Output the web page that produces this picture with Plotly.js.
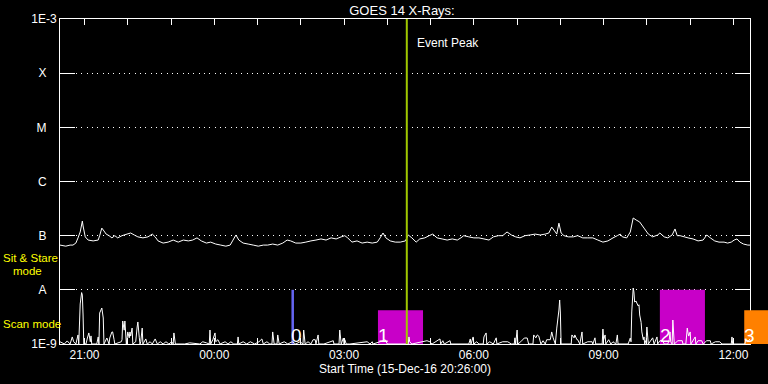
<!DOCTYPE html>
<html><head><meta charset="utf-8">
<script src="https://cdn.plot.ly/plotly-3.0.1.min.js"></script>
<style>html,body{margin:0;padding:0;background:#000;}#chart{width:768px;height:384px;}</style>
</head><body><div id="chart"></div>
<script>
// Start time 15-Dec-2016 20:26:00; all times are minutes after the start
const startTime = Date.UTC(2016, 11, 15, 20, 26, 0);
const endMinute = 957;

// GOES 14 long channel (1-8 A), flux in units of 1E-9 W/m^2
const longMin = [0,8,14,18,22,25,28,31,32,35, 39,46,53,55,58,61,64,68,72,76, 80,86,93,98,103,108,115,122,128,132, 136,143,150,157,164,171,178,184,190,196, 203,209,216,223,230,236,240,244,248,254, 261,268,275,282,288,295,302,309,315,320, 327,334,341,348,355,362,369,376,383,390, 395,399,405,412,419,426,433,440,444,448, 452,458,465,472,479,483,488,494,499,506, 512,517,523,530,537,544,551,556,560,567, 574,581,588,595,601,608,614,620,626,632, 638,645,652,659,666,673,678,682,686,689, 692,695,699,705,712,718,725,732,739,746, 753,760,767,773,777,780,786,791,795,799, 804,810,816,822,829,832,838,843,849,853, 856,860,866,871,878,885,892,897,902,908, 914,921,926,931,935,939,943,948,954,957];
const longVal = [67,64,67,67,73,91,117,186,151,95, 83,80,83,100,138,122,107,100,91,100, 91,100,107,112,103,95,91,95,107,95, 80,73,76,83,76,83,80,83,91,80, 73,76,70,67,64,67,83,103,83,73, 70,67,64,67,67,70,67,73,83,80, 73,73,76,80,83,87,83,91,87,95, 100,91,76,80,73,76,73,76,91,112, 91,80,76,76,80,103,91,76,87,91, 100,107,91,87,83,87,83,91,100,95, 91,91,87,83,95,100,100,117,103,95, 91,100,103,107,103,107,112,144,122,107, 170,112,100,95,95,100,91,91,91,83, 76,80,91,100,107,95,91,117,212,195, 179,138,107,95,103,112,95,91,103,133, 100,100,95,91,87,80,83,103,91,80, 76,76,73,76,83,87,76,70,67,67];

// GOES 14 short channel (0.5-4 A), flux in units of 1E-9 W/m^2
const shortMin = [0,6,10,14,17,19,22,25,26,28, 30,31,32,33,36,38,40,42,43,44, 51,53,54,55,58,60,61,65,68,69, 72,73,75,76,85,86,87,89,90,92, 94,96,97,98,100,101,105,107,108,110, 111,112,114,115,119,121,125,128,132,135, 139,143,147,151,155,157,158,160,173,180, 194,198,203,207,208,209,212,215,216,219, 222,229,233,237,241,246,247,248,254,259, 264,270,276,280,282,287,291,294,295,297, 301,302,304,311,316,322,327,333,337,338, 340,344,348,351,354,355,358,359,366,379, 380,387,388,390,393,394,395,397,402,426, 430,433,434,444,448,451,454,483,484,485, 488,509,513,516,527,528,531,533,541,542, 567,569,570,573,574,578,581,587,588,591, 592,596,601,605,606,614,621,626,630,631, 632,634,635,639,644,648,650,656,657,660, 662,664,667,670,673,675,680,682,684,687, 689,692,693,694,695,709,710,713,714,717, 718,721,724,725,732,738,739,742,743,752, 753,754,756,757,761,764,767,771,773,774, 788,791,792,793,795,796,797,799,800,802, 803,804,806,807,809,810,811,813,814,816, 822,824,828,829,832,836,838,843,845,846, 847,849,850,852,857,863,864,868,870,871, 872,874,875,881,882,885,890,892,897,902, 903,909,915,918,931,932,933,950,951,954, 957];
const shortVal = [1.1,1.0,1.14,1.0,1.35,1.1,1.0,1.47,1.0,5.48, 8.9,8.0,3.43,1.0,1.0,1.29,1.6,1.1,1.41,1.0, 1.0,1.35,1.0,3.73,4.62,3.02,1.0,1.29,1.0,1.29, 1.67,1.67,1.2,1.0,1.1,1.2,2.66,1.8,2.66,1.0, 1.67,1.3,1.67,1.4,1.97,1.0,1.1,2.06,2.55,1.3, 1.0,1.1,1.97,1.0,1.24,1.0,1.1,1.0,1.24,1.0, 1.1,1.0,1.1,1.0,1.1,1.0,1.6,1.0,1.0,1.05, 1.0,1.1,1.05,1.0,1.81,1.0,1.2,1.6,1.1,1.2, 1.0,1.1,1.0,1.1,1.0,1.0,1.35,1.0,1.1,1.0, 1.1,1.0,1.1,1.24,1.0,1.1,1.0,1.0,1.67,1.0, 1.0,1.47,1.0,1.1,1.0,1.1,1.0,1.1,1.0,1.81, 1.0,1.1,1.0,1.2,1.2,1.0,1.47,1.0,1.0,1.15, 1.0,1.0,1.81,1.0,1.29,1.0,1.2,1.0,1.0,1.1, 1.0,1.1,1.0,1.1,1.15,1.2,1.0,1.0,1.35,1.1, 1.0,1.15,1.1,1.0,1.24,1.0,1.15,1.0,1.15,1.0, 1.0,1.24,1.0,1.35,1.0,1.1,1.0,1.0,1.35,1.6, 1.0,1.1,1.0,1.3,1.0,1.1,1.1,1.0,1.0,1.3, 1.0,1.81,1.0,1.1,1.29,1.29,1.0,1.0,1.47,1.3, 1.47,1.4,1.0,1.15,1.0,1.2,1.2,1.67,1.3,1.0, 1.97,4.24,6.49,3.73,1.0,1.0,1.47,1.3,1.47,1.2, 1.2,1.0,1.67,1.0,1.1,1.1,1.0,1.3,1.0,1.0, 1.89,1.2,1.47,1.0,1.2,1.0,1.1,1.0,1.47,1.0, 1.0,1.29,1.1,3.9,10.8,9.13,5.96,6.2,5.71,5.03, 5.3,3.43,2.5,1.67,1.2,1.35,1.0,1.2,2.06,1.0, 1.3,1.0,1.35,1.0,1.15,1.15,1.0,1.0,1.2,1.67, 1.1,1.0,2.77,1.0,1.15,1.15,1.0,1.0,1.97,1.6, 1.4,1.67,1.0,1.35,1.0,1.15,1.15,1.0,1.15,1.15, 1.0,1.1,1.1,1.0,1.0,1.35,1.0,1.0,1.2,1.1, 1.24];

// Observations (minutes after start), top level in 1E-9 W/m^2
const obsLabel = ['0', '1', '2', '3'];
const obsStart = [321, 441, 832, 949];
const obsEnd = [324.5, 503.5, 894.5, 982];
const obsTop = [10, 4.2, 10, 4.2];
const obsColors = ['#6464f0', '#c800c8', '#c800c8', '#ff8000'];

const eventPeakMin = 481;

// Axis ticks
const levelVals = [1e-9, 1e-8, 1e-7, 1e-6, 1e-5, 1e-4, 1e-3];
const levelText = ['1E-9', 'A', 'B', 'C', 'M', 'X', '1E-3'];
const firstTickHour = Date.UTC(2016, 11, 15, 21, 0, 0);
const hourLabels = ['21:00','','','00:00','','','03:00','','','06:00','','','09:00','','','12:00'];

const toDate = m => startTime + m * 60000;
const nb = '\u00a0\u00a0\u00a0';
const scale = 1e-9;

// plot frame: 60..750 px; the overlay data layer spans 60..768 px with the same time scale
const frameFrac = 690 / 708;

const traces = [
  {
    type: 'bar', xaxis: 'x2', yaxis: 'y2',
    x: obsStart.map((s, i) => toDate((s + obsEnd[i]) / 2)),
    width: obsStart.map((s, i) => (obsEnd[i] - s) * 60000),
    base: obsStart.map(() => scale),
    y: obsTop.map(v => (v - 1) * scale),
    marker: {color: obsColors, line: {width: 0}},
    hoverinfo: 'skip'
  },
  {
    type: 'scatter', mode: 'lines', xaxis: 'x2', yaxis: 'y2',
    x: longMin.map(toDate), y: longVal.map(v => v * scale),
    line: {color: '#ffffff', width: 1, simplify: false}
  },
  {
    type: 'scatter', mode: 'lines', xaxis: 'x2', yaxis: 'y2',
    x: shortMin.map(toDate), y: shortVal.map(v => v * scale),
    line: {color: '#ffffff', width: 1, simplify: false}
  },
  {
    type: 'scatter', mode: 'lines', xaxis: 'x2', yaxis: 'y2',
    x: [toDate(eventPeakMin), toDate(eventPeakMin)], y: [levelVals[0], levelVals[levelVals.length - 1]],
    line: {color: '#a0c800', width: 2}
  }
];

const annotations = [
  {x: toDate(eventPeakMin), xref: 'x', y: 0.926, yref: 'paper', xanchor: 'left', yanchor: 'middle',
   xshift: 8, text: 'Event Peak', showarrow: false, font: {size: 12, color: '#ffffff'}},
  {x: -59 / 708, xref: 'paper', y: (344 - 257.5) / 325, yref: 'paper', xanchor: 'left', yanchor: 'middle',
   text: 'Sit & Stare', showarrow: false, font: {size: 11.5, color: '#ffff00'}},
  {x: -49 / 708, xref: 'paper', y: (344 - 271) / 325, yref: 'paper', xanchor: 'left', yanchor: 'middle',
   text: 'mode', showarrow: false, font: {size: 11.5, color: '#ffff00'}},
  {x: -59 / 708, xref: 'paper', y: (344 - 324) / 325, yref: 'paper', xanchor: 'left', yanchor: 'middle',
   text: 'Scan mode', showarrow: false, font: {size: 11.5, color: '#ffff00'}}
];
obsLabel.forEach((t, i) => annotations.push({
  x: toDate(obsStart[i]), xref: 'x', y: -9, yref: 'y', xanchor: 'left', yanchor: 'bottom',
  xshift: -2, yshift: -4, text: t, showarrow: false, font: {size: 19, color: '#ffffff'}
}));

const layout = {
  width: 768, height: 384,
  margin: {l: 60, r: 0, t: 19, b: 40, pad: 0},
  paper_bgcolor: '#000000', plot_bgcolor: 'rgba(0,0,0,0)',
  font: {family: 'Liberation Sans, Arial, sans-serif', size: 12, color: '#ffffff'},
  showlegend: false,
  title: {text: 'GOES 14 X-Rays:', x: 402 / 768, xref: 'container', xanchor: 'center',
          y: 1 - 10 / 384, yref: 'container', yanchor: 'middle', font: {size: 13, color: '#ffffff'}},
  xaxis: {
    type: 'date', domain: [0, frameFrac], anchor: 'y', range: [toDate(0), toDate(endMinute)],
    tickmode: 'array',
    tickvals: hourLabels.map((_, i) => firstTickHour + i * 3600000),
    ticktext: hourLabels,
    ticks: 'inside', ticklen: 6, tickwidth: 1, tickcolor: '#ffffff',
    showline: true, linecolor: '#ffffff', linewidth: 1, mirror: 'ticks',
    showgrid: false, zeroline: false,
    tickfont: {size: 12, color: '#ffffff'},
    title: {text: 'Start Time (15-Dec-16 20:26:00)', font: {size: 12, color: '#ffffff'}, standoff: 2},
    fixedrange: true
  },
  yaxis: {
    type: 'log', range: [-9, -3], anchor: 'x',
    tickmode: 'array', tickvals: levelVals,
    ticktext: levelText.map(t => t.length === 1 ? t + nb : t),
    ticks: 'inside', ticklen: 15, tickwidth: 1, tickcolor: '#ffffff',
    showline: true, linecolor: '#ffffff', linewidth: 1, mirror: 'ticks',
    showgrid: true, gridcolor: '#ffffff', gridwidth: 1, griddash: '1px,4.33px',
    zeroline: false, tickfont: {size: 12, color: '#ffffff'},
    fixedrange: true
  },
  xaxis2: {
    type: 'date', domain: [0, 1], anchor: 'y2',
    range: [toDate(0), toDate(endMinute / frameFrac)],
    visible: false, showgrid: false, zeroline: false, fixedrange: true
  },
  yaxis2: {
    type: 'log', range: [-9, -3], anchor: 'x2', domain: [0, 1],
    visible: false, showgrid: false, zeroline: false, fixedrange: true
  },
  annotations: annotations
};

Plotly.newPlot('chart', traces, layout, {displayModeBar: false, staticPlot: true});
</script>
</body></html>
